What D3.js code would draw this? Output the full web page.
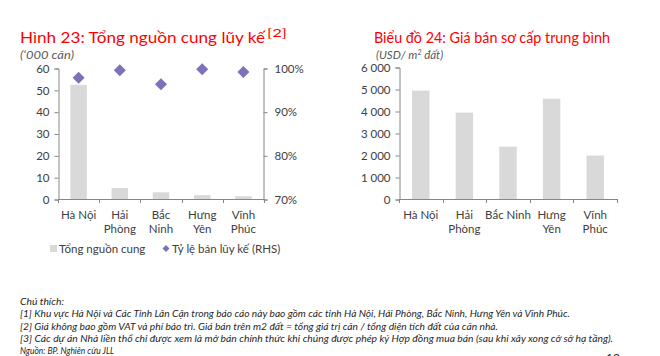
<!DOCTYPE html>
<html><head><meta charset="utf-8">
<script src="https://cdn.jsdelivr.net/npm/d3@7"></script>
<style>
body{margin:0;background:#fff;}
svg{display:block;font-family:Lato,"Open Sans",sans-serif;}
</style></head>
<body><svg id="c" width="660" height="356"></svg>
<script>
// Data
const categories1 = [["Hà Nội"],["Hải","Phòng"],["Bắc","Ninh"],["Hưng","Yên"],["Vĩnh","Phúc"]];
const supply = [52.5, 5.3, 3.3, 2.0, 1.5];
const soldRate = [0.979, 0.996, 0.964, 0.998, 0.992];
const leftTicks = [0,10,20,30,40,50,60];
const rightTicks = [0.7,0.8,0.9,1.0];
const categories2 = [["Hà Nội"],["Hải","Phòng"],["Bắc Ninh"],["Hưng","Yên"],["Vĩnh","Phúc"]];
const price = [4950, 3950, 2400, 4580, 2000];
const priceTicks = [0,1000,2000,3000,4000,5000,6000];
const notes = [
 "Chú thích:",
 "[1] Khu vực Hà Nội và Các Tỉnh Lân Cận trong báo cáo này bao gồm các tỉnh Hà Nội, Hải Phòng, Bắc Ninh, Hưng Yên và Vĩnh Phúc.",
 "[2] Giá không bao gồm VAT và phí bảo trì. Giá bán trên m2 đất = tổng giá trị căn / tổng diện tích đất của căn nhà.",
 "[3] Các dự án Nhà liền thổ chỉ được xem là mở bán chính thức khi chúng được phép ký Hợp đồng mua bán (sau khi xây xong cở sở hạ tầng).",
 "Nguồn: BP. Nghiên cứu JLL"
];
const noteWidths = [44, 550, 478, 593, 94];

const svg = d3.select("#c");
const axisColor = "#868686", textColor = "#404040", barColor = "#d9d9d9", dotColor = "#7b72ba", red = "#ff0000";

// ---------- Chart 1 ----------
const x1 = d3.scaleBand().domain(d3.range(5)).range([58,264]).paddingInner(0.6).paddingOuter(0.3);
const y1 = d3.scaleLinear().domain([0,60]).range([199.5,68.5]);
const y1r = d3.scaleLinear().domain([0.7,1.0]).range([199.5,68.5]);

// titles
svg.append("text").attr("x",20).attr("y",43).attr("fill",red).attr("font-size",16)
  .attr("textLength",245).attr("lengthAdjust","spacingAndGlyphs").text("Hình 23: Tổng nguồn cung lũy kế");
svg.append("text").attr("x",267).attr("y",37).attr("fill",red).attr("font-size",10.5)
  .attr("textLength",20).attr("lengthAdjust","spacingAndGlyphs").text("[2]");
svg.append("text").attr("x",20).attr("y",59).attr("fill","#595959").attr("font-size",11.5).attr("font-style","italic")
  .attr("textLength",54).attr("lengthAdjust","spacingAndGlyphs").text("(‘000 căn)");

const g1 = svg.append("g");
g1.selectAll("rect").data(supply).join("rect")
  .attr("x",(d,i)=>x1(i)).attr("width",x1.bandwidth())
  .attr("y",d=>y1(d)).attr("height",d=>y1(0)-y1(d)).attr("fill",barColor);

function styleAxis(g){
  g.selectAll("path,line").attr("stroke",axisColor).attr("stroke-width",1);
  g.selectAll("text").attr("fill",textColor).attr("font-size",11.5).attr("font-family","Lato, sans-serif");
}
const ax1 = svg.append("g").attr("transform","translate(58.5,0)")
  .call(d3.axisLeft(y1).tickValues(leftTicks).tickSize(4).tickSizeOuter(4).tickPadding(5));
styleAxis(ax1);
const ax1r = svg.append("g").attr("transform","translate(263.5,0)")
  .call(d3.axisRight(y1r).tickValues(rightTicks).tickFormat(d3.format(".0%")).tickSize(4).tickSizeOuter(4).tickPadding(7));
styleAxis(ax1r);

// x axis
function catAxis(xs, y, cats, x0, x1e){
  const g = svg.append("g");
  g.append("line").attr("x1",x0).attr("x2",x1e).attr("y1",y+0.5).attr("y2",y+0.5).attr("stroke",axisColor);
  const n = cats.length;
  const step = xs.step();
  const gap = (step - xs.bandwidth())/2;
  const bounds = d3.range(n+1).map(i=> i<n ? xs(i) - gap : xs(n-1) + xs.bandwidth() + gap);
  g.selectAll("line.tk").data(bounds).join("line").attr("class","tk")
    .attr("x1",d=>Math.round(d)+0.5).attr("x2",d=>Math.round(d)+0.5).attr("y1",y).attr("y2",y+4).attr("stroke",axisColor);
  cats.forEach((lines,i)=>{
    const cx = xs(i)+xs.bandwidth()/2;
    lines.forEach((l,j)=>{
      g.append("text").attr("x",cx).attr("y",y+20+j*14).attr("text-anchor","middle")
        .attr("fill",textColor).attr("font-size",11.5).text(l);
    });
  });
}
catAxis(x1, 199, categories1, 58, 264);

// diamonds
g1.selectAll("path.dm").data(soldRate).join("path").attr("class","dm")
  .attr("d",(d,i)=>{const cx=x1(i)+x1.bandwidth()/2, cy=y1r(d), r=6; return `M${cx},${cy-r}L${cx+r},${cy}L${cx},${cy+r}L${cx-r},${cy}Z`;})
  .attr("fill",dotColor);

// legend
const lg = svg.append("g");
lg.append("rect").attr("x",50).attr("y",245).attr("width",7).attr("height",7).attr("fill",barColor);
lg.append("text").attr("x",59).attr("y",253).attr("font-size",11.5).attr("fill",textColor).text("Tổng nguồn cung");
lg.append("path").attr("d","M166,245L169.5,248.5L166,252L162.5,248.5Z").attr("fill",dotColor);
lg.append("text").attr("x",172).attr("y",253).attr("font-size",11.5).attr("fill",textColor).text("Tỷ lệ bán lũy kế (RHS)");

// ---------- Chart 2 ----------
const x2 = d3.scaleBand().domain(d3.range(5)).range([399,617]).paddingInner(0.6).paddingOuter(0.3);
const y2 = d3.scaleLinear().domain([0,6000]).range([199.5,67.5]);
svg.append("text").attr("x",374).attr("y",43).attr("fill",red).attr("font-size",16)
  .attr("textLength",236).attr("lengthAdjust","spacingAndGlyphs").text("Biểu đồ 24: Giá bán sơ cấp trung bình");
const s2 = svg.append("text").attr("x",376).attr("y",59).attr("fill","#595959").attr("font-size",11.5).attr("font-style","italic");
s2.append("tspan").text("(USD/ m");
s2.append("tspan").attr("font-size",7).attr("dy",-4).text("2");
s2.append("tspan").attr("dy",4).text(" đất)");

svg.append("g").selectAll("rect").data(price).join("rect")
  .attr("x",(d,i)=>x2(i)).attr("width",x2.bandwidth())
  .attr("y",d=>y2(d)).attr("height",d=>y2(0)-y2(d)).attr("fill",barColor);
const fmt = d => d>=1000 ? d3.format(",")(d).replace(",", " ") : String(d);
const ax2 = svg.append("g").attr("transform","translate(399.5,0)")
  .call(d3.axisLeft(y2).tickValues(priceTicks).tickFormat(fmt).tickSize(4).tickSizeOuter(4).tickPadding(5));
styleAxis(ax2);
catAxis(x2, 199, categories2, 399, 617);

// ---------- Notes ----------
notes.forEach((n,i)=>{
  svg.append("text").attr("x",20).attr("y",305+i*12.3).attr("font-size",10).attr("font-style","italic")
    .attr("fill","#262626").attr("textLength",noteWidths[i]).attr("lengthAdjust","spacingAndGlyphs").text(n);
});
svg.append("text").attr("x",606).attr("y",362).attr("font-size",12).attr("fill","#262626").text("12");
</script></body></html>
